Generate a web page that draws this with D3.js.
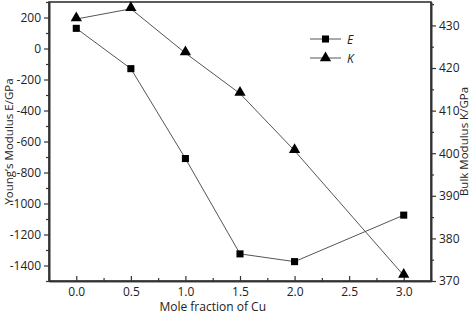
<!DOCTYPE html>
<html>
<head>
<meta charset="utf-8">
<script src="https://cdn.jsdelivr.net/npm/d3@7"></script>
<style>
  body { margin: 0; background: #fff; }
  text { font-family: "Open Sans", sans-serif; fill: #222; }
</style>
</head>
<body>
<script>
// Young's modulus (E) and bulk modulus (K) vs mole fraction of Cu
const moleFraction = [0.0, 0.5, 1.0, 1.5, 2.0, 3.0];
const youngE = [130, -130, -710, -1325, -1375, -1075];
const bulkK = [431.5, 433.9, 423.5, 414.0, 400.6, 371.3];

const xTicks = [0.0, 0.5, 1.0, 1.5, 2.0, 2.5, 3.0];
const eTicks = [-1400, -1200, -1000, -800, -600, -400, -200, 0, 200];
const kTicks = [370, 380, 390, 400, 410, 420, 430];

function main() {
    let margin = {top: 2, right: 41, bottom: 33, left: 49},
        width = 472 - margin.left - margin.right,
        height = 314 - margin.top - margin.bottom;

    let svg = d3.select("body").append("svg")
        .attr("width", 472)
        .attr("height", 314);

    let g = svg.append("g")
        .attr("transform", "translate(" + margin.left + "," + margin.top + ")");

    let x = d3.scaleLinear().domain([-0.25, 3.25]).range([0, width]);
    let yE = d3.scaleLinear().domain([-1500, 300]).range([height, 0]);
    let yK = d3.scaleLinear().domain([370, 435.5]).range([height, 0]);

    // plain hyphen minus, no thousands separator
    let plain = function(d) { return String(d); };

    // bottom axis, ticks point inward
    g.append("g")
        .attr("transform", "translate(0," + height + ")")
        .call(d3.axisBottom(x).tickValues(xTicks).tickFormat(d3.format(".1f"))
            .tickSizeInner(-5).tickSizeOuter(0).tickPadding(6));
    g.append("g")
        .attr("transform", "translate(0," + height + ")")
        .call(d3.axisBottom(x).tickValues(d3.range(-0.25, 3.26, 0.5)).tickFormat("")
            .tickSizeInner(-3).tickSizeOuter(0));

    // left axis
    g.append("g")
        .call(d3.axisLeft(yE).tickValues(eTicks).tickFormat(plain)
            .tickSizeInner(5).tickSizeOuter(0).tickPadding(3));
    g.append("g")
        .call(d3.axisLeft(yE).tickValues(d3.range(-1500, 301, 200)).tickFormat("")
            .tickSizeInner(3).tickSizeOuter(0));

    // right axis
    g.append("g")
        .attr("transform", "translate(" + width + ",0)")
        .call(d3.axisRight(yK).tickValues(kTicks).tickFormat(plain)
            .tickSizeInner(5).tickSizeOuter(0).tickPadding(3));
    g.append("g")
        .attr("transform", "translate(" + width + ",0)")
        .call(d3.axisRight(yK).tickValues(d3.range(375, 436, 10)).tickFormat("")
            .tickSizeInner(3).tickSizeOuter(0));

    // frame
    g.append("rect")
        .attr("width", width).attr("height", height)
        .attr("fill", "none").attr("stroke", "#333").attr("stroke-width", 1.6);

    g.selectAll(".domain").attr("stroke", "#333").attr("stroke-width", 1.6);
    g.selectAll(".tick line").attr("stroke", "#333").attr("stroke-width", 1.2);
    g.selectAll(".tick text").style("font-size", "12px").attr("fill", "#222");

    let lineE = d3.line()
        .x(function(d, i) { return x(moleFraction[i]); })
        .y(function(d) { return yE(d); });
    let lineK = d3.line()
        .x(function(d, i) { return x(moleFraction[i]); })
        .y(function(d) { return yK(d); });

    g.append("path").datum(youngE).attr("d", lineE)
        .attr("fill", "none").attr("stroke", "#555").attr("stroke-width", 1);
    g.append("path").datum(bulkK).attr("d", lineK)
        .attr("fill", "none").attr("stroke", "#555").attr("stroke-width", 1);

    let square = d3.symbol().type(d3.symbolSquare).size(50);
    let triangle = d3.symbol().type(d3.symbolTriangle).size(55);

    g.selectAll(".ptE").data(youngE).enter().append("path")
        .attr("d", square)
        .attr("transform", function(d, i) { return "translate(" + x(moleFraction[i]) + "," + yE(d) + ")"; })
        .attr("fill", "#000");
    g.selectAll(".ptK").data(bulkK).enter().append("path")
        .attr("d", triangle)
        .attr("transform", function(d, i) { return "translate(" + x(moleFraction[i]) + "," + (yK(d) - 1) + ")"; })
        .attr("fill", "#000");

    // legend
    let legend = [{name: "E", sym: square, y: 39}, {name: "K", sym: triangle, y: 58}];
    legend.forEach(function(l) {
        svg.append("line").attr("x1", 310).attr("x2", 341).attr("y1", l.y).attr("y2", l.y)
            .attr("stroke", "#555").attr("stroke-width", 1);
        svg.append("path").attr("d", l.sym).attr("transform", "translate(325.5," + l.y + ")").attr("fill", "#000");
        svg.append("text").attr("x", 347).attr("y", l.y + 4.5)
            .style("font-size", "12px").style("font-style", "italic").text(l.name);
    });

    // axis titles
    svg.append("text")
        .attr("transform", "translate(12.5," + (margin.top + height / 2) + ") rotate(-90)")
        .attr("text-anchor", "middle").style("font-size", "11.5px")
        .text("Young\u2019s Modulus E/GPa");
    svg.append("text")
        .attr("transform", "translate(468," + (margin.top + height / 2) + ") rotate(-90)")
        .attr("text-anchor", "middle").style("font-size", "11.5px")
        .text("Bulk Modulus K/GPa");
    svg.append("text")
        .attr("x", margin.left + x(1.25)).attr("y", 311)
        .attr("text-anchor", "middle").style("font-size", "12px")
        .text("Mole fraction of Cu");
}

main();
</script>
</body>
</html>
